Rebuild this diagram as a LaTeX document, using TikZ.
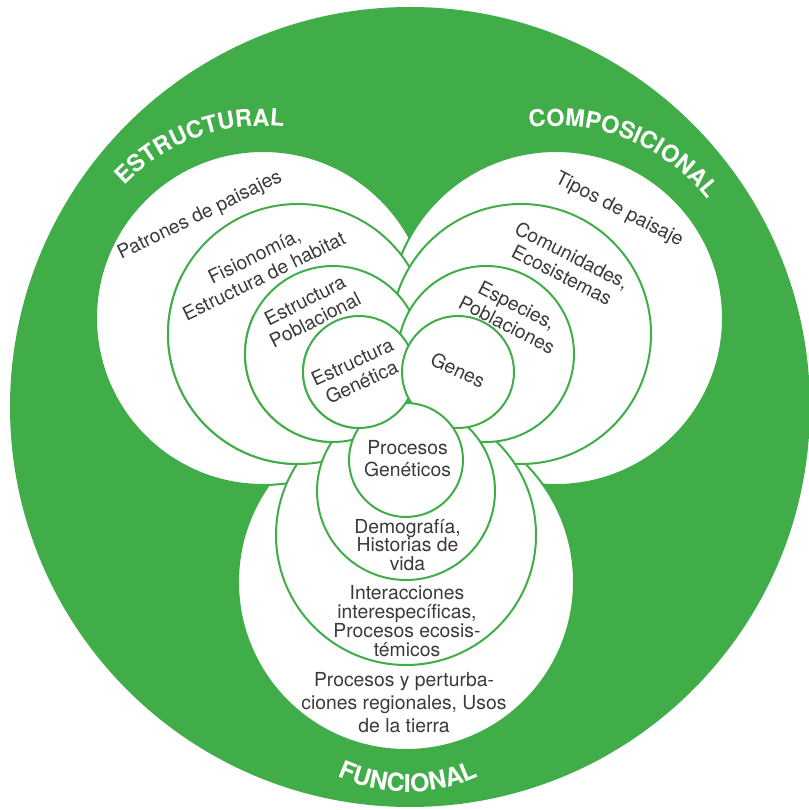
\documentclass[tikz,border=0pt]{standalone}
\usepackage{fontspec}
\setmainfont{TeX Gyre Heros}
\usetikzlibrary{decorations.text}
\definecolor{grn}{RGB}{65,173,73}
\definecolor{txtc}{RGB}{58,58,58}
\newcommand\labfont{\fontsize{17.6}{20}\selectfont\bfseries}
\newcommand\labfontb{\fontsize{18.6}{20}\selectfont\bfseries}
\begin{document}
\begin{tikzpicture}[x=0.75pt,y=0.75pt,
  ring/.style={fill=white,draw=grn,line width=1.5pt},
  txt/.style={text=txtc,font=\fontsize{14.5}{16.5}\selectfont,align=center,inner sep=0pt},
  lab/.style={decorate,decoration={text along path,text={|\labfont|#1},text color=white,text align=center}},
  labb/.style={decorate,decoration={text along path,text={|\labfontb|#1},text color=white,text align=center}}]
\useasboundingbox (0,0) rectangle (808,810);
\fill[white] (0,0) rectangle (808,810);
\fill[grn] (410,403) circle[radius=400];
% pinwheel of nested circles: left (L), right (R), bottom (B)
\foreach \lx/\ly/\lr/\rx/\ry/\rr/\bx/\by/\br in {
  263/492/167/556/492/167/406/228/168,
  298/476/130/521/476/130/406/275/130,
  333/456/88/486/456/88/406/319/89,
  359/438/56/458/438/56/406/350/57}{
  \draw[ring] (\lx,\ly) circle[radius=\lr];
  \draw[ring] (\rx,\ry) circle[radius=\rr];
  \draw[ring] (\bx,\by) circle[radius=\br];
  \begin{scope}
    \clip (409,406) -- (-110.6,706) -- (-110.6,106) -- (409,-194) -- cycle;
    \draw[ring] (\lx,\ly) circle[radius=\lr];
  \end{scope}
}
% group labels
\path[lab=ESTRUCTURAL] (263,492) ++(170:192) arc[start angle=170,end angle=50,radius=192];
\path[lab=COMPOSICIONAL] (556,492) ++(128:192) arc[start angle=128,end angle=8,radius=192];
\path[labb=FUNCIONAL] (408,188) ++(200:170) arc[start angle=200,end angle=340,radius=170];
% texts
\node[txt,rotate=26] (patrones) at (200,594) {Patrones de paisajes};
\node[txt,rotate=26] (fisio) at (259,544) {Fisionomía,\\Estructura de habitat};
\node[txt,rotate=27] (pobl) at (310,500) {Estructura\\Poblacional};
\node[txt,rotate=25] (genet) at (357,438) {Estructura\\Genética};
\node[txt,rotate=-27] (tipos) at (619,600) {Tipos de paisaje};
\node[txt,rotate=-27] (comun) at (567,545) {Comunidades,\\Ecosistemas};
\node[txt,rotate=-27] (espec) at (512,495) {Especies,\\Poblaciones};
\node[txt,rotate=-25] (genes) at (458,440) {Genes};
\node[txt] (procgen) at (407.5,351) {Procesos\\Genéticos};
\node[txt,font=\fontsize{14.5}{13.75}\selectfont] (demog) at (407.5,265) {Demografía,\\Historias de\\vida};
\node[txt,font=\fontsize{14.5}{14.25}\selectfont] (inter) at (407,189) {Interacciones\\interespecíficas,\\Procesos ecosis-\\témicos};
\node[txt,font=\fontsize{14.5}{17.25}\selectfont] (regio) at (404,107) {Procesos y perturba-\\ciones regionales, Usos\\de la tierra};
\end{tikzpicture}
\end{document}
